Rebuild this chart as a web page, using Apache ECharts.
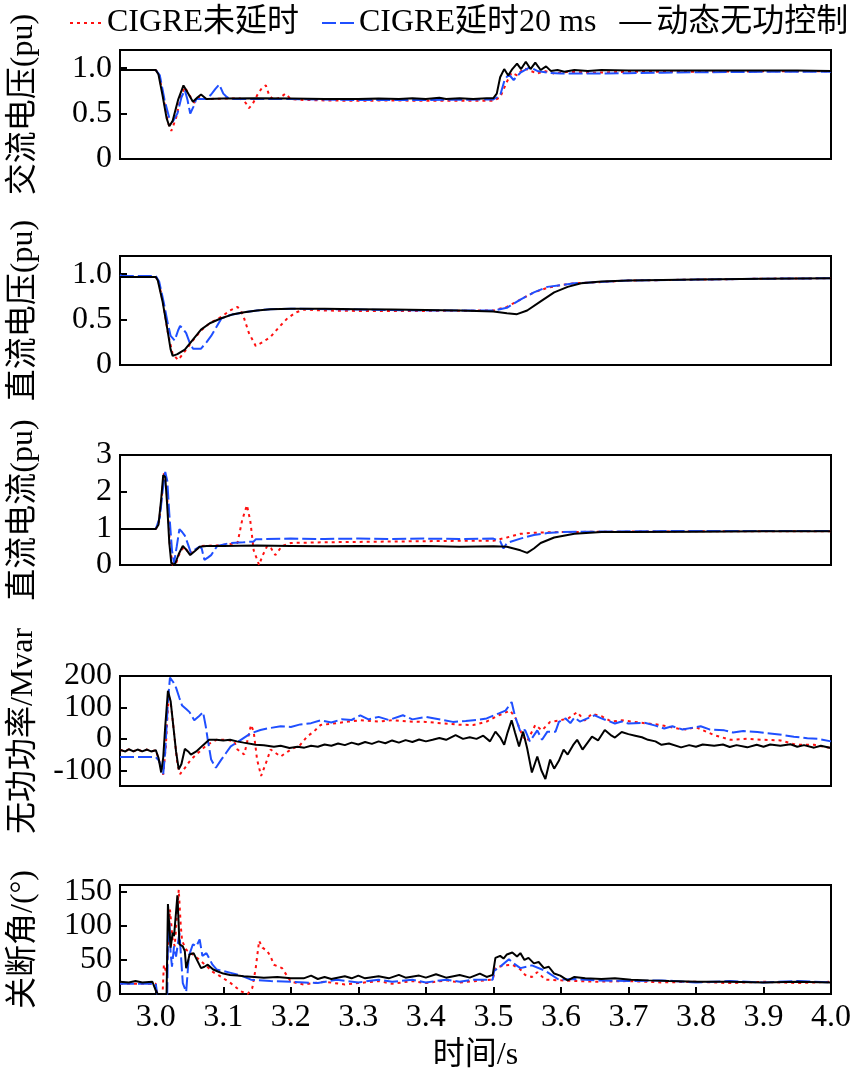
<!DOCTYPE html>
<html>
<head>
<meta charset="utf-8">
<script src="https://cdn.jsdelivr.net/npm/echarts@6/dist/echarts.min.js"></script>
<style>
html,body{margin:0;padding:0;background:#fff;}
#chart{width:863px;height:1076px;}
</style>
</head>
<body>
<div id="chart"></div>
<script>
// ---------- data (time in s, value) ----------
var seriesNames = ['CIGRE未延时', 'CIGRE延时20 ms', '动态无功控制'];
var xTicks = [3.0, 3.1, 3.2, 3.3, 3.4, 3.5, 3.6, 3.7, 3.8, 3.9, 4.0];

// Panel 1: AC voltage (pu)
var acRed = [[2.947,0.98],[3.0,0.98],[3.005,0.92],[3.012,0.65],[3.018,0.4],[3.023,0.31],[3.03,0.45],[3.037,0.68],[3.043,0.79],[3.05,0.7],[3.057,0.62],[3.065,0.68],[3.075,0.66],[3.1,0.665],[3.125,0.665],[3.133,0.62],[3.138,0.56],[3.143,0.6],[3.15,0.7],[3.157,0.78],[3.163,0.81],[3.168,0.7],[3.175,0.65],[3.185,0.68],[3.192,0.72],[3.2,0.66],[3.22,0.65],[3.25,0.645],[3.3,0.64],[3.35,0.645],[3.4,0.64],[3.45,0.64],[3.5,0.64],[3.51,0.68],[3.52,0.85],[3.527,0.95],[3.535,0.92],[3.545,1.0],[3.555,0.97],[3.565,0.94],[3.575,0.97],[3.59,0.94],[3.61,0.96],[3.65,0.95],[3.7,0.96],[3.8,0.96],[3.9,0.965],[4.0,0.965]];
var acBlue = [[2.947,0.98],[3.0,0.98],[3.006,0.92],[3.013,0.65],[3.02,0.45],[3.025,0.41],[3.032,0.5],[3.038,0.68],[3.043,0.76],[3.047,0.65],[3.051,0.5],[3.056,0.58],[3.06,0.66],[3.068,0.66],[3.075,0.66],[3.082,0.71],[3.088,0.77],[3.094,0.82],[3.1,0.72],[3.104,0.69],[3.11,0.66],[3.2,0.66],[3.3,0.65],[3.4,0.65],[3.5,0.655],[3.51,0.7],[3.517,0.88],[3.523,0.93],[3.53,0.87],[3.54,0.95],[3.554,1.01],[3.565,0.97],[3.58,0.95],[3.6,0.94],[3.65,0.94],[3.7,0.945],[3.75,0.95],[3.8,0.955],[3.9,0.96],[4.0,0.96]];
var acBlack = [[2.947,0.98],[3.0,0.98],[3.004,0.93],[3.01,0.7],[3.016,0.45],[3.02,0.36],[3.025,0.42],[3.033,0.65],[3.041,0.81],[3.048,0.72],[3.055,0.63],[3.062,0.68],[3.067,0.71],[3.075,0.66],[3.1,0.665],[3.15,0.67],[3.2,0.665],[3.25,0.66],[3.3,0.66],[3.33,0.665],[3.36,0.66],[3.38,0.67],[3.4,0.66],[3.42,0.675],[3.43,0.66],[3.45,0.67],[3.47,0.66],[3.49,0.67],[3.5,0.67],[3.505,0.72],[3.51,0.9],[3.516,0.99],[3.522,0.92],[3.528,0.99],[3.535,1.05],[3.541,0.99],[3.548,1.07],[3.555,0.99],[3.562,1.06],[3.57,0.98],[3.578,1.02],[3.585,0.97],[3.595,0.98],[3.605,0.96],[3.62,0.98],[3.64,0.97],[3.66,0.98],[3.7,0.975],[3.75,0.975],[3.8,0.975],[3.85,0.975],[3.9,0.975],[3.95,0.975],[4.0,0.97]];

// Panel 2: DC voltage (pu)
var dcvRed = [[2.947,0.97],[3.0,0.97],[3.004,0.92],[3.011,0.68],[3.018,0.35],[3.025,0.12],[3.033,0.055],[3.04,0.12],[3.055,0.27],[3.067,0.38],[3.08,0.46],[3.097,0.53],[3.11,0.6],[3.121,0.64],[3.126,0.6],[3.131,0.51],[3.138,0.35],[3.148,0.21],[3.158,0.25],[3.17,0.31],[3.183,0.42],[3.195,0.515],[3.208,0.58],[3.219,0.61],[3.25,0.6],[3.3,0.595],[3.4,0.595],[3.5,0.6],[3.52,0.64],[3.54,0.72],[3.56,0.8],[3.58,0.85],[3.6,0.88],[3.62,0.9],[3.65,0.91],[3.7,0.93],[3.8,0.94],[3.9,0.95],[4.0,0.955]];
var dcvBlue = [[2.947,0.99],[2.95,0.98],[3.0,0.98],[3.005,0.92],[3.012,0.68],[3.018,0.45],[3.022,0.32],[3.028,0.27],[3.033,0.38],[3.036,0.43],[3.04,0.4],[3.045,0.35],[3.05,0.25],[3.055,0.18],[3.067,0.18],[3.075,0.25],[3.082,0.32],[3.089,0.41],[3.097,0.51],[3.11,0.55],[3.131,0.58],[3.15,0.6],[3.17,0.615],[3.2,0.62],[3.3,0.61],[3.4,0.6],[3.5,0.6],[3.52,0.63],[3.54,0.72],[3.56,0.8],[3.58,0.86],[3.6,0.88],[3.62,0.9],[3.65,0.91],[3.7,0.93],[3.8,0.94],[3.9,0.95],[4.0,0.955]];
var dcvBlack = [[2.947,0.97],[3.0,0.97],[3.003,0.93],[3.01,0.7],[3.017,0.4],[3.022,0.17],[3.025,0.1],[3.032,0.12],[3.043,0.17],[3.055,0.28],[3.067,0.39],[3.08,0.46],[3.097,0.515],[3.113,0.555],[3.131,0.58],[3.15,0.6],[3.17,0.615],[3.2,0.62],[3.25,0.62],[3.3,0.615],[3.35,0.61],[3.4,0.605],[3.45,0.6],[3.5,0.59],[3.52,0.57],[3.535,0.56],[3.55,0.6],[3.57,0.7],[3.59,0.8],[3.61,0.86],[3.63,0.9],[3.66,0.92],[3.7,0.93],[3.8,0.94],[3.9,0.95],[4.0,0.955]];

// Panel 3: DC current (pu)
var dciRed = [[2.947,0.98],[3.0,0.98],[3.005,1.2],[3.009,1.9],[3.012,2.5],[3.015,2.35],[3.018,1.5],[3.021,0.5],[3.025,0.0],[3.03,0.05],[3.036,0.35],[3.042,0.5],[3.05,0.3],[3.058,0.4],[3.067,0.52],[3.097,0.54],[3.121,0.6],[3.128,1.23],[3.135,1.63],[3.14,1.2],[3.145,0.4],[3.153,0.0],[3.158,0.25],[3.165,0.52],[3.171,0.45],[3.177,0.27],[3.187,0.52],[3.2,0.6],[3.25,0.62],[3.3,0.63],[3.35,0.64],[3.4,0.65],[3.45,0.66],[3.5,0.66],[3.52,0.75],[3.54,0.85],[3.56,0.88],[3.6,0.9],[3.7,0.91],[3.8,0.92],[3.9,0.92],[4.0,0.92]];
var dciBlue = [[2.947,0.98],[3.0,0.98],[3.006,1.3],[3.01,2.0],[3.014,2.54],[3.017,2.3],[3.02,1.4],[3.024,0.4],[3.027,0.05],[3.031,0.5],[3.035,0.98],[3.039,0.9],[3.043,0.8],[3.048,0.55],[3.052,0.33],[3.058,0.42],[3.065,0.5],[3.068,0.45],[3.072,0.14],[3.077,0.2],[3.082,0.27],[3.091,0.52],[3.11,0.6],[3.13,0.62],[3.145,0.64],[3.148,0.7],[3.2,0.72],[3.25,0.71],[3.3,0.72],[3.35,0.71],[3.4,0.72],[3.45,0.71],[3.5,0.72],[3.51,0.65],[3.515,0.45],[3.52,0.6],[3.54,0.72],[3.56,0.82],[3.58,0.87],[3.6,0.9],[3.7,0.92],[3.8,0.93],[3.9,0.93],[4.0,0.93]];
var dciBlack = [[2.947,0.98],[3.0,0.98],[3.004,1.1],[3.008,1.8],[3.011,2.45],[3.014,2.4],[3.017,1.6],[3.02,0.6],[3.023,0.05],[3.028,0.0],[3.034,0.3],[3.04,0.52],[3.046,0.4],[3.051,0.27],[3.058,0.38],[3.065,0.5],[3.075,0.52],[3.1,0.52],[3.15,0.53],[3.2,0.52],[3.25,0.51],[3.3,0.52],[3.35,0.51],[3.4,0.52],[3.45,0.5],[3.5,0.51],[3.52,0.5],[3.53,0.45],[3.54,0.4],[3.55,0.33],[3.56,0.45],[3.57,0.6],[3.59,0.75],[3.62,0.85],[3.66,0.9],[3.7,0.9],[3.8,0.91],[3.9,0.92],[4.0,0.92]];

// Panel 4: reactive power (Mvar)
var qRed = [[2.947,-35],[2.955,-40],[2.96,-33],[2.967,-40],[2.973,-34],[2.98,-40],[2.987,-34],[2.993,-40],[3.0,-36],[3.005,-70],[3.011,-114],[3.015,-20],[3.019,140],[3.023,100],[3.028,0],[3.032,-80],[3.036,-112],[3.044,-90],[3.052,-66],[3.065,-40],[3.076,-19],[3.09,-3],[3.105,-3],[3.116,-8],[3.121,-34],[3.131,-50],[3.141,44],[3.145,23],[3.15,-66],[3.156,-118],[3.165,-66],[3.17,-34],[3.185,-56],[3.2,-34],[3.214,-19],[3.224,7],[3.235,25],[3.244,44],[3.268,50],[3.285,55],[3.303,59],[3.33,55],[3.35,59],[3.375,55],[3.4,54],[3.425,49],[3.45,45],[3.47,44],[3.49,55],[3.499,65],[3.508,75],[3.525,90],[3.533,65],[3.543,10],[3.55,-8],[3.562,44],[3.572,27],[3.584,54],[3.597,58],[3.611,65],[3.624,85],[3.635,58],[3.646,80],[3.66,72],[3.675,55],[3.69,59],[3.705,55],[3.724,50],[3.745,45],[3.773,33],[3.785,30],[3.8,37],[3.827,12],[3.851,-3],[3.875,0],[3.9,-3],[3.925,-5],[3.949,-19],[3.975,-19],[4.0,-29]];
var qBlue = [[2.947,-58],[3.0,-58],[3.005,-70],[3.011,-112],[3.014,-40],[3.018,120],[3.021,195],[3.026,180],[3.03,163],[3.035,130],[3.039,106],[3.045,95],[3.05,85],[3.057,59],[3.063,70],[3.07,85],[3.074,40],[3.077,-3],[3.082,-66],[3.089,-92],[3.097,-66],[3.104,-45],[3.111,-24],[3.126,-3],[3.141,18],[3.155,28],[3.165,33],[3.185,40],[3.2,38],[3.214,46],[3.23,50],[3.244,59],[3.26,52],[3.275,62],[3.29,60],[3.303,75],[3.315,62],[3.33,70],[3.345,60],[3.366,75],[3.38,62],[3.4,70],[3.425,60],[3.44,54],[3.459,57],[3.475,60],[3.49,65],[3.508,81],[3.518,90],[3.527,117],[3.532,72],[3.54,23],[3.547,28],[3.554,-8],[3.565,27],[3.572,-3],[3.58,23],[3.592,23],[3.597,54],[3.607,65],[3.614,50],[3.62,68],[3.628,55],[3.65,75],[3.66,65],[3.68,49],[3.69,55],[3.7,49],[3.724,51],[3.74,42],[3.753,33],[3.765,40],[3.78,30],[3.807,40],[3.82,30],[3.842,27],[3.855,20],[3.87,25],[3.891,22],[3.905,18],[3.92,15],[3.945,7],[3.965,2],[3.98,0],[4.0,-8]];
var qBlack = [[2.947,-35],[2.955,-40],[2.96,-33],[2.967,-40],[2.973,-34],[2.98,-40],[2.987,-34],[2.993,-40],[3.0,-36],[3.004,-60],[3.008,-107],[3.011,-60],[3.014,40],[3.018,153],[3.022,120],[3.026,40],[3.03,-40],[3.034,-97],[3.038,-80],[3.043,-32],[3.048,-40],[3.052,-50],[3.06,-40],[3.07,-20],[3.079,-3],[3.09,-3],[3.1,-5],[3.11,-3],[3.12,-8],[3.13,-12],[3.148,-19],[3.16,-20],[3.175,-25],[3.185,-22],[3.198,-29],[3.21,-25],[3.22,-28],[3.23,-22],[3.24,-25],[3.25,-18],[3.26,-22],[3.27,-15],[3.28,-20],[3.29,-12],[3.3,-18],[3.31,-10],[3.32,-16],[3.33,-8],[3.34,-14],[3.35,-5],[3.36,-12],[3.37,-4],[3.38,-10],[3.39,-2],[3.4,-8],[3.41,-3],[3.42,3],[3.43,-3],[3.444,12],[3.455,0],[3.465,5],[3.475,0],[3.485,10],[3.495,-8],[3.503,23],[3.51,5],[3.516,-19],[3.521,20],[3.527,59],[3.532,20],[3.538,-24],[3.544,23],[3.55,-30],[3.557,-107],[3.565,-56],[3.571,-100],[3.577,-128],[3.584,-66],[3.59,-95],[3.597,-70],[3.604,-34],[3.61,-50],[3.618,-20],[3.624,-3],[3.632,-34],[3.646,7],[3.655,-5],[3.665,28],[3.675,10],[3.68,4],[3.69,22],[3.7,15],[3.71,10],[3.72,5],[3.729,-3],[3.74,-8],[3.749,-19],[3.76,-15],[3.778,-27],[3.79,-20],[3.8,-25],[3.81,-18],[3.827,-22],[3.84,-18],[3.85,-26],[3.86,-20],[3.876,-27],[3.89,-19],[3.9,-25],[3.91,-18],[3.925,-22],[3.94,-17],[3.95,-25],[3.96,-20],[3.975,-28],[3.985,-22],[4.0,-29]];

// Panel 5: extinction angle (deg)
var gRed = [[2.947,15],[3.0,15],[3.002,0],[3.01,0],[3.012,43],[3.016,30],[3.021,124],[3.025,80],[3.028,70],[3.031,110],[3.034,153],[3.037,100],[3.039,78],[3.045,65],[3.055,58],[3.065,50],[3.073,43],[3.085,32],[3.094,27],[3.111,16],[3.126,4],[3.136,0],[3.143,9],[3.148,38],[3.153,78],[3.158,68],[3.165,63],[3.17,55],[3.175,43],[3.187,38],[3.2,18],[3.219,14],[3.25,18],[3.28,14],[3.3,16],[3.33,19],[3.35,15],[3.38,19],[3.4,16],[3.43,20],[3.45,17],[3.499,21],[3.503,38],[3.515,42],[3.528,43],[3.54,36],[3.547,28],[3.557,25],[3.565,32],[3.577,21],[3.6,20],[3.65,18],[3.7,19],[3.75,17],[3.8,18],[3.85,16],[3.9,18],[3.95,16],[4.0,18]];
var gBlue = [[2.947,15],[3.0,15],[3.002,0],[3.017,0],[3.018,80],[3.02,105],[3.022,60],[3.024,40],[3.027,70],[3.03,55],[3.035,90],[3.04,16],[3.045,3],[3.049,56],[3.055,73],[3.06,70],[3.065,80],[3.069,56],[3.075,60],[3.084,43],[3.09,36],[3.111,31],[3.126,27],[3.141,21],[3.17,19],[3.2,18],[3.24,16],[3.268,21],[3.3,17],[3.33,21],[3.35,18],[3.38,21],[3.4,17],[3.43,21],[3.45,18],[3.47,21],[3.499,21],[3.501,34],[3.51,40],[3.523,51],[3.53,45],[3.54,38],[3.557,42],[3.577,34],[3.597,21],[3.62,22],[3.65,20],[3.7,19],[3.75,20],[3.8,17],[3.85,19],[3.9,17],[3.95,19],[4.0,17]];
var gBlack = [[2.947,18],[2.96,17],[2.97,19],[2.98,17],[2.995,18],[3.0,5],[3.003,0],[3.016,0],[3.018,132],[3.02,100],[3.022,68],[3.025,90],[3.027,85],[3.03,120],[3.032,145],[3.034,100],[3.035,73],[3.04,70],[3.043,63],[3.045,38],[3.047,45],[3.05,58],[3.056,60],[3.06,52],[3.067,38],[3.072,40],[3.077,43],[3.085,36],[3.092,33],[3.1,30],[3.11,28],[3.121,27],[3.13,26],[3.146,25],[3.16,24],[3.18,25],[3.2,23],[3.219,23],[3.23,27],[3.24,22],[3.25,25],[3.26,22],[3.28,26],[3.29,23],[3.3,27],[3.31,23],[3.33,26],[3.345,23],[3.36,28],[3.37,24],[3.39,27],[3.4,24],[3.415,29],[3.43,24],[3.45,28],[3.465,24],[3.48,30],[3.49,25],[3.499,28],[3.503,53],[3.51,56],[3.515,52],[3.52,58],[3.528,61],[3.535,55],[3.54,60],[3.546,50],[3.552,53],[3.56,45],[3.567,47],[3.575,38],[3.582,40],[3.59,30],[3.599,27],[3.61,20],[3.62,25],[3.636,23],[3.66,22],[3.68,23],[3.704,21],[3.73,20],[3.76,19],[3.802,18],[3.85,18],[3.9,17],[3.95,18],[4.0,17]];

// axis setup data
var panelNames = ['交流电压(pu)', '直流电压(pu)', '直流电流(pu)', '无功功率/Mvar', '关断角/(°)'];
var panelMin = [0, 0, 0, -150, 0];
var panelMax = [1.2, 1.2, 3, 200, 160];
var panelTicks = [[0, 0.5, 1.0], [0, 0.5, 1.0], [0, 1, 2, 3], [-100, 0, 100, 200], [0, 50, 100, 150]];
// panel 4 labels are split over two label rows so that the tightly spaced ones are all kept
var panelLabels = [[0, 0.5, 1.0], [0, 0.5, 1.0], [0, 1, 2, 3], [-100, 100], [0, 50, 100, 150]];
var panel4ExtraLabels = [0, 200];
var panelData = [
  [acRed, acBlue, acBlack],
  [dcvRed, dcvBlue, dcvBlack],
  [dciRed, dciBlue, dciBlack],
  [qRed, qBlue, qBlack],
  [gRed, gBlue, gBlack]
];

// ---------- chart ----------
var FONT = "'Liberation Serif', 'Times New Roman', 'Noto Sans CJK SC', serif";
var gridTops = [50, 256, 455, 676, 885];
var gridHeights = [109, 109, 110, 110, 109];
var colors = ['#ff1010', '#1f4fff', '#000000'];
var lineTypes = [[3, 4], [14, 4], 'solid'];

function labelFmt(idx) {
  return function (v) { return (idx < 2 && v !== 0) ? v.toFixed(1) : String(v); };
}

var grids = [], xAxes = [], yAxes = [], series = [];
for (var i = 0; i < 5; i++) {
  grids.push({left: 115, right: 32, top: gridTops[i], height: gridHeights[i], show: true, borderColor: '#000', borderWidth: 2, backgroundColor: 'transparent'});
  var last = (i === 4);
  xAxes.push({
    type: 'value', gridIndex: i, min: 2.947, max: 4.0,
    axisLine: {show: true, onZero: false, lineStyle: {color: '#000', width: 2}},
    axisTick: {show: last, inside: true, length: 7, customValues: xTicks, lineStyle: {color: '#000', width: 2}},
    axisLabel: {show: last, customValues: xTicks, margin: 8, fontSize: 32, color: '#000', fontFamily: FONT,
      showMinLabel: true, showMaxLabel: true,
      formatter: function (v) { return v.toFixed(1); }},
    splitLine: {show: false},
    name: last ? '时间/s' : '', nameLocation: 'middle', nameGap: 46,
    nameTextStyle: {fontSize: 32, color: '#000', fontFamily: FONT}
  });
  yAxes.push({
    type: 'value', gridIndex: i, min: panelMin[i], max: panelMax[i],
    axisLine: {show: true, onZero: false, lineStyle: {color: '#000', width: 2}},
    axisTick: {show: true, inside: true, length: 7, customValues: panelTicks[i], lineStyle: {color: '#000', width: 2}},
    axisLabel: {customValues: panelLabels[i], margin: 8, fontSize: 32, color: '#000', fontFamily: FONT,
      showMinLabel: true, showMaxLabel: true, formatter: labelFmt(i)},
    splitLine: {show: false},
    name: panelNames[i], nameLocation: 'middle', nameGap: 80,
    nameTextStyle: {fontSize: 32, color: '#000', fontFamily: FONT}
  });
  for (var s = 0; s < 3; s++) {
    series.push({
      name: seriesNames[s], type: 'line', xAxisIndex: i, yAxisIndex: i,
      data: panelData[i][s], symbol: 'none', animation: false, clip: true,
      lineStyle: {color: colors[s], width: 2, type: lineTypes[s]},
      itemStyle: {color: colors[s]},
      z: 2 + s
    });
  }
}
// second label row for panel 4 (same scale, no line/ticks)
yAxes.push({
  type: 'value', gridIndex: 3, position: 'left', offset: 0, min: panelMin[3], max: panelMax[3],
  axisLine: {show: false}, axisTick: {show: false}, splitLine: {show: false},
  axisLabel: {customValues: panel4ExtraLabels, margin: 8, fontSize: 32, color: '#000', fontFamily: FONT,
    showMinLabel: true, showMaxLabel: true, formatter: labelFmt(3)}
});

var chart = echarts.init(document.getElementById('chart'), null, {renderer: 'canvas'});
chart.setOption({
  animation: false,
  backgroundColor: '#fff',
  legend: {
    data: seriesNames, left: 64, top: 2, itemWidth: 32, itemHeight: 14, itemGap: 22,
    itemStyle: {opacity: 0},
    textStyle: {fontSize: 32, color: '#000', fontFamily: FONT}
  },
  grid: grids, xAxis: xAxes, yAxis: yAxes, series: series
});
</script>
</body>
</html>
